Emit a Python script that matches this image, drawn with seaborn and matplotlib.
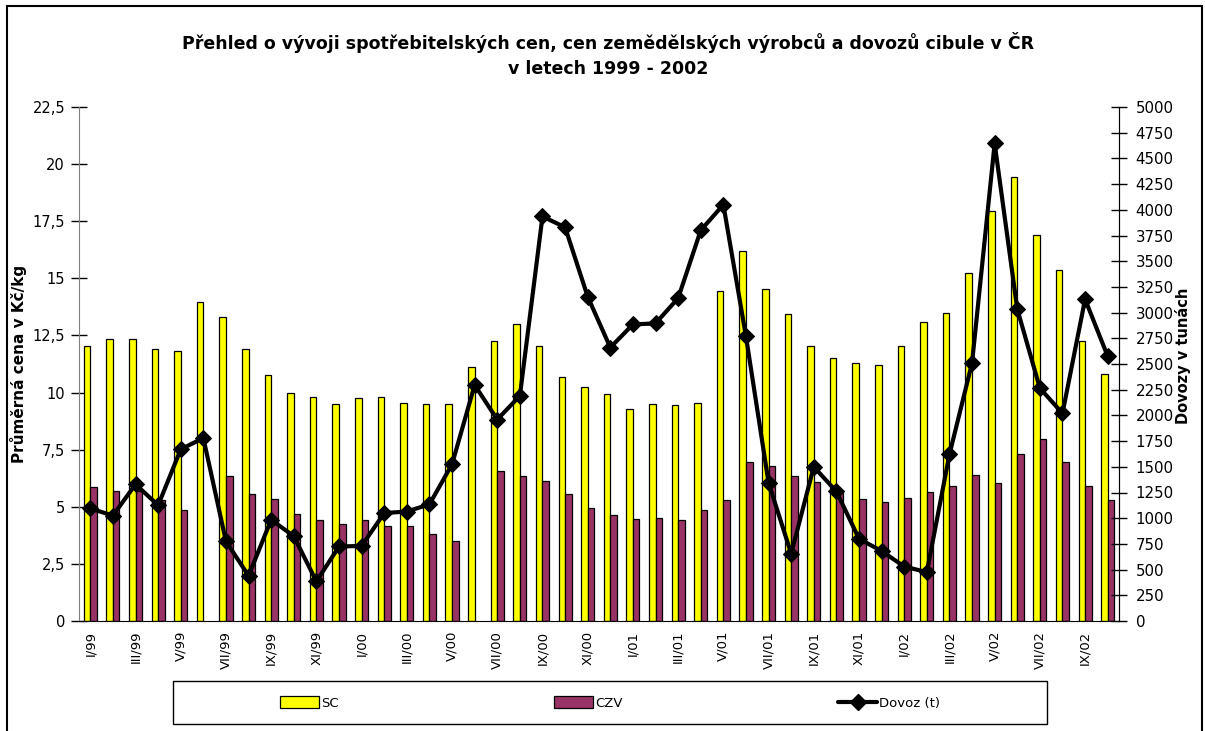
import numpy as np
import pandas as pd
import matplotlib
matplotlib.use("Agg")
import matplotlib.pyplot as plt
import seaborn as sns
from matplotlib.patches import Patch, Rectangle
from matplotlib.lines import Line2D
from matplotlib.ticker import FixedLocator, FuncFormatter

# ---------------- data ----------------
roman = ["I", "II", "III", "IV", "V", "VI", "VII", "VIII", "IX", "X", "XI", "XII"]
years = ["99", "00", "01", "02"]
months = [f"{r}/{y}" for y in years for r in roman][:46]

sc = [12.05, 12.35, 12.35, 11.9, 11.8, 13.95, 13.3, 11.9, 10.75, 10.0, 9.8, 9.5,
      9.75, 9.8, 9.55, 9.5, 9.5, 11.1, 12.25, 13.0, 12.05, 10.7, 10.25, 9.95,
      9.3, 9.5, 9.45, 9.55, 14.45, 16.2, 14.55, 13.45, 12.05, 11.5, 11.3, 11.2,
      12.05, 13.1, 13.5, 15.25, 17.95, 19.45, 16.9, 15.35, 12.25, 10.8]
czv = [5.85, 5.7, 5.7, 5.3, 4.85, np.nan, 6.35, 5.55, 5.35, 4.7, 4.4, 4.25,
       4.4, 4.15, 4.15, 3.8, 3.5, np.nan, 6.55, 6.35, 6.15, 5.55, 4.95, 4.65,
       4.45, 4.5, 4.4, 4.85, 5.3, 6.95, 6.8, 6.35, 6.1, 5.7, 5.35, 5.2,
       5.4, 5.65, 5.9, 6.4, 6.05, 7.3, 7.95, 6.95, 5.9, 5.3]
dovoz = [1095, 1025, 1330, 1125, 1670, 1780, 775, 440, 985, 825, 385, 725,
         730, 1050, 1065, 1135, 1525, 2295, 1960, 2190, 3935, 3830, 3155, 2660,
         2885, 2895, 3140, 3800, 4050, 2770, 1345, 655, 1500, 1260, 800, 680,
         530, 475, 1620, 2510, 4645, 3035, 2265, 2020, 3130, 2575]

series_names = ["SC", "CZV", "Dovoz (t)"]
title = "Přehled o vývoji spotřebitelských cen, cen zemědělských výrobců a dovozů cibule v ČR\nv letech 1999 - 2002"
ylabel_left = "Průměrná cena v Kč/kg"
ylabel_right = "Dovozy v tunách"
left_ticks = [0, 2.5, 5, 7.5, 10, 12.5, 15, 17.5, 20, 22.5]
right_ticks = list(range(0, 5001, 250))

# ---------------- style ----------------
sns.set_style("white")
plt.rcParams["font.family"] = ["DejaVu Sans"]
plt.rcParams.update({"text.color": "black", "axes.labelcolor": "black",
                     "xtick.color": "black", "ytick.color": "black"})

W, H = 1205, 731
fig = plt.figure(figsize=(W / 100, H / 100), dpi=100)
ax = fig.add_axes([79 / W, 1 - 621 / H, (1119 - 79) / W, (621 - 107) / H])

bars = pd.DataFrame({
    "month": months * 2,
    "value": sc + czv,
    "series": [series_names[0]] * len(months) + [series_names[1]] * len(months),
})
palette = {series_names[0]: "#FFFF00", series_names[1]: "#993366"}
sns.barplot(data=bars, x="month", y="value", hue="series", order=months,
            hue_order=series_names[:2], palette=palette, width=0.58,
            edgecolor="black", linewidth=0.9, saturation=1, legend=False, ax=ax,
            errorbar=None)

ax2 = ax.twinx()
xpos = np.arange(len(months))
sns.lineplot(x=xpos, y=dovoz, ax=ax2, color="black", linewidth=3.0,
             marker="D", markersize=8, markeredgecolor="black", sort=False,
             legend=False)

# axes limits and ticks
ax.set_xlim(-0.5, len(months) - 0.5)
ax2.set_xlim(-0.5, len(months) - 0.5)
ax.set_ylim(0, 22.5)
ax2.set_ylim(0, 5000)

ax.set_yticks(left_ticks)
ax.yaxis.set_major_formatter(FuncFormatter(lambda v, p: (f"{v:g}").replace(".", ",")))
ax2.set_yticks(right_ticks)
ax2.yaxis.set_major_formatter(FuncFormatter(lambda v, p: f"{int(v)}"))

ax.set_xticks(xpos[::2])
ax.set_xticklabels(months[::2], rotation=90, fontsize=9.5)
ax.xaxis.set_minor_locator(FixedLocator(np.arange(-0.5, len(months), 1.0)))
ax.tick_params(axis="x", which="major", length=0, pad=7, labelcolor="black")
ax.tick_params(axis="x", which="minor", length=9, direction="inout", width=1, color="black")
ax.tick_params(axis="y", which="major", length=12, direction="inout", width=1,
               labelsize=10.5, pad=4, color="black", labelcolor="black")
ax2.tick_params(axis="y", which="major", length=12, direction="inout", width=1,
                labelsize=10.8, pad=6, color="black", labelcolor="black")

ax.set_xlabel("")
ax.set_ylabel(ylabel_left, fontsize=11, fontweight="bold", color="black")
ax.yaxis.set_label_coords((27 - 79) / 1040, 0.5)
ax2.set_ylabel(ylabel_right, fontsize=10.5, fontweight="bold", color="black")
ax2.yaxis.set_label_coords((1175 - 79) / 1040, (621 - 356) / 514)

for a in (ax, ax2):
    a.spines["top"].set_visible(False)
    a.grid(False)
ax.spines["left"].set_color("#808080")
ax.spines["bottom"].set_color("black")
ax2.spines["right"].set_color("black")
ax2.spines["left"].set_visible(False)
ax2.spines["bottom"].set_visible(False)
ax.patch.set_alpha(0)

# title
fig.text(608 / W, 1 - 55 / H, title, ha="center", va="center", fontsize=12.5,
         fontweight="bold", linespacing=1.55, color="black")

# legend
handles = [
    Patch(facecolor="#FFFF00", edgecolor="black", linewidth=0.9),
    Patch(facecolor="#993366", edgecolor="black", linewidth=0.9),
    Line2D([0], [0], color="black", linewidth=3.0, marker="D", markersize=8),
]
fig.legend(handles, series_names, loc="center", bbox_to_anchor=(610 / W, 1 - 703 / H),
           ncol=3, frameon=False, fontsize=9.5, handlelength=3.0, handleheight=1.0,
           handletextpad=0.15, columnspacing=16.3, numpoints=1, labelcolor="black")
fig.add_artist(Rectangle((173 / W, 1 - 724 / H), (1047 - 173) / W, (724 - 681) / H,
                         transform=fig.transFigure, fill=False, edgecolor="black",
                         linewidth=1.0))
# outer border
fig.add_artist(Rectangle((7 / W, -0.02), (1202 - 7) / W, 1.02 - 6 / H,
                         transform=fig.transFigure, fill=False, edgecolor="black",
                         linewidth=1.5))

fig.savefig("out.png", dpi=100)
